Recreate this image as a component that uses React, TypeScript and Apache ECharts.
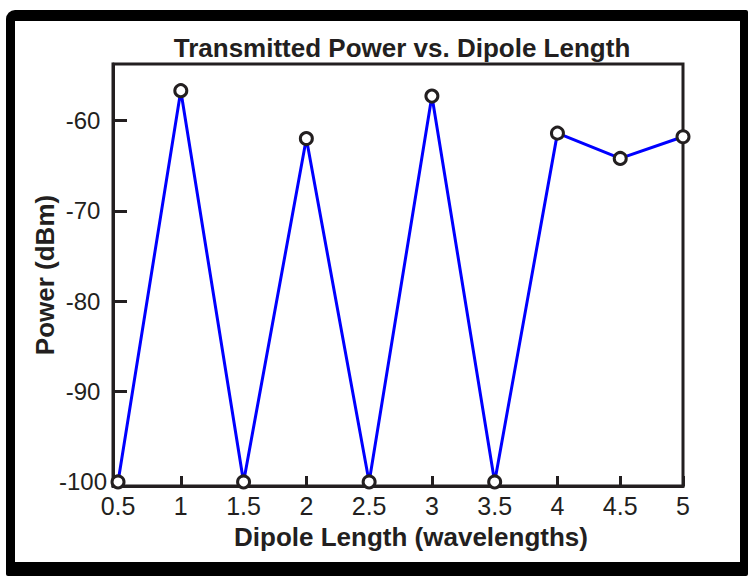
import React, { useEffect, useRef } from "react";
import * as echarts from "echarts";

const dipoleLengths = [0.5, 1, 1.5, 2, 2.5, 3, 3.5, 4, 4.5, 5];
const powerDbm = [-100, -56.7, -100, -62.0, -100, -57.3, -100, -61.4, -64.2, -61.8];
const xTicks = [0.5, 1, 1.5, 2, 2.5, 3, 3.5, 4, 4.5, 5];
const yTicks = [-100, -90, -80, -70, -60];
const titleText = "Transmitted Power vs. Dipole Length";
const xName = "Dipole Length (wavelengths)";
const yName = "Power (dBm)";

const FONT = "'Liberation Sans', Arial, Helvetica, sans-serif";
const INK = "#231f20";

export default function App() {
  const ref = useRef<HTMLDivElement>(null);
  useEffect(() => {
    if (!ref.current) return;
    const chart = echarts.init(ref.current, null, { renderer: "svg" });
    chart.setOption({
      animation: false,
      backgroundColor: "#ffffff",
      textStyle: { fontFamily: FONT },
      graphic: [
        {
          type: "rect",
          z: -100,
          silent: true,
          shape: { x: 6, y: 10, width: 742, height: 566, r: [9, 2, 2, 2] },
          style: { fill: "#000000" },
        },
        {
          type: "rect",
          z: -99,
          silent: true,
          shape: { x: 15, y: 21, width: 725, height: 541 },
          style: { fill: "#ffffff" },
        },
      ],
      title: {
        text: titleText,
        left: 397,
        textAlign: "center",
        top: 30,
        textStyle: { fontFamily: FONT, fontSize: 26, fontWeight: "bold", color: INK },
      },
      grid: {
        left: 113,
        right: 69,
        top: 64,
        bottom: 92,
        show: true,
        borderColor: INK,
        borderWidth: 3,
        backgroundColor: "transparent",
      },
      xAxis: {
        type: "value",
        min: 0.46,
        max: 5,
        name: xName,
        nameLocation: "middle",
        nameGap: 38,
        nameTextStyle: {
          fontFamily: FONT,
          fontSize: 26,
          fontWeight: "bold",
          color: INK,
          padding: [0, 0, 0, 26],
        },
        axisLine: { show: true, lineStyle: { color: INK, width: 3 } },
        axisTick: {
          show: true,
          inside: true,
          length: 10,
          customValues: xTicks,
          lineStyle: { color: INK, width: 3 },
        },
        axisLabel: {
          fontFamily: FONT,
          fontSize: 25,
          color: INK,
          margin: 7,
          customValues: xTicks,
        },
        splitLine: { show: false },
      },
      yAxis: {
        type: "value",
        min: -100.45,
        max: -53.75,
        name: yName,
        nameLocation: "middle",
        nameRotate: 90,
        nameGap: 55,
        nameMoveOverlap: false,
        nameTextStyle: { fontFamily: FONT, fontSize: 26, fontWeight: "bold", color: INK },
        axisLine: { show: true, lineStyle: { color: INK, width: 3 } },
        axisTick: {
          show: true,
          inside: true,
          length: 14,
          customValues: yTicks.filter((v) => v > -100),
          lineStyle: { color: INK, width: 3 },
        },
        axisLabel: {
          fontFamily: FONT,
          fontSize: 24,
          color: INK,
          margin: 30,
          align: "center",
          customValues: yTicks,
        },
        splitLine: { show: false },
      },
      series: [
        {
          type: "line",
          data: dipoleLengths.map((x, i) => [x, powerDbm[i]]),
          clip: false,
          symbol: "circle",
          symbolSize: 12,
          lineStyle: { color: "#0000ff", width: 3 },
          itemStyle: { color: "#ffffff", borderColor: INK, borderWidth: 3 },
          z: 5,
        },
      ],
    });
    return () => chart.dispose();
  }, []);
  return (
    <div
      ref={ref}
      style={{ position: "fixed", left: 0, top: 0, width: 752, height: 578 }}
    />
  );
}
